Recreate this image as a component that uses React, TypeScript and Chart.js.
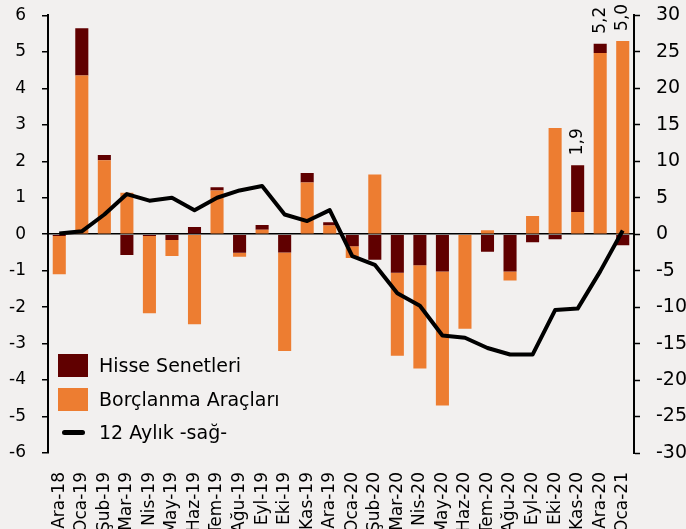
import React, { useEffect, useRef } from "react";
import { Chart, registerables } from "chart.js";

Chart.register(...registerables);

const categories = [
  "Ara-18", "Oca-19", "Şub-19", "Mar-19", "Nis-19", "May-19", "Haz-19", "Tem-19", "Ağu-19",
  "Eyl-19", "Eki-19", "Kas-19", "Ara-19", "Oca-20", "Şub-20", "Mar-20", "Nis-20", "May-20",
  "Haz-20", "Tem-20", "Ağu-20", "Eyl-20", "Eki-20", "Kas-20", "Ara-20", "Oca-21",
];
const hisse = [
  -0.05, 1.3, 0.14, -0.57, -0.05, -0.16, 0.2, 0.09, -0.51, 0.13, -0.5, 0.26, 0.09,
  -0.33, -0.7, -1.06, -0.85, -1.02, 0.0, -0.48, -1.02, -0.22, -0.14, 1.28, 0.25, -0.3,
];
const borc = [
  -1.05, 4.35, 2.03, 1.14, -2.12, -0.44, -2.47, 1.2, -0.11, 0.12, -2.7, 1.42, 0.24,
  -0.32, 1.64, -2.27, -2.83, -3.68, -2.59, 0.11, -0.25, 0.5, 2.91, 0.61, 4.97, 5.3,
];
const aylik12 = [
  0.1, 0.4, 2.7, 5.5, 4.6, 5.0, 3.3, 5.0, 6.0, 6.6, 2.7, 1.8, 3.3,
  -3.0, -4.2, -8.1, -9.8, -13.9, -14.2, -15.6, -16.5, -16.5, -10.4, -10.2, -5.1, 0.5,
];
const labelIndices = [23, 24, 25];
const leftTicks = { min: -6, max: 6, step: 1 };
const rightTicks = { min: -30, max: 30, step: 5 };

const HISSE_COLOR = "#600000";
const BORC_COLOR = "#ED7D31";
const BG = "#f2f0ef";
const FONT = "'DejaVu Sans', sans-serif";
const CANVAS_SHIFT = 12;

const totalLabelPlugin = {
  id: "totalLabels",
  afterDatasetsDraw(chart: any) {
    const ctx = chart.ctx;
    const xs = chart.scales.x;
    const ys = chart.scales.y;
    ctx.save();
    ctx.fillStyle = "#000";
    ctx.font = `17px ${FONT}`;
    ctx.textAlign = "left";
    ctx.textBaseline = "middle";
    labelIndices.forEach((i) => {
      const total = hisse[i] + borc[i];
      const posTop = Math.max(0, borc[i]) + Math.max(0, hisse[i]);
      const x = xs.getPixelForValue(i);
      const y = ys.getPixelForValue(posTop) - 10;
      ctx.save();
      ctx.translate(x, y);
      ctx.rotate(-Math.PI / 2);
      ctx.fillText(total.toFixed(1).replace(".", ","), 0, 0);
      ctx.restore();
    });
    ctx.restore();
  },
};

export default function App() {
  const ref = useRef<HTMLCanvasElement | null>(null);

  useEffect(() => {
    if (!ref.current) return;
    Chart.defaults.font.family = FONT;
    const hisseNeg = hisse.map((v) => (v < 0 ? v : null));
    const hissePos = hisse.map((v) => (v > 0 ? v : null));
    const chart = new Chart(ref.current, {
      type: "bar",
      data: {
        labels: categories,
        datasets: [
          {
            label: "Hisse Senetleri",
            data: hisseNeg as any,
            backgroundColor: HISSE_COLOR,
            yAxisID: "y",
            order: 1,
            categoryPercentage: 0.58,
            barPercentage: 1,
          },
          {
            label: "Borçlanma Araçları",
            data: borc,
            backgroundColor: BORC_COLOR,
            yAxisID: "y",
            order: 1,
            categoryPercentage: 0.58,
            barPercentage: 1,
          },
          {
            label: "Hisse Senetleri (+)",
            data: hissePos as any,
            backgroundColor: HISSE_COLOR,
            yAxisID: "y",
            order: 1,
            categoryPercentage: 0.58,
            barPercentage: 1,
          },
          {
            type: "line" as any,
            label: "12 Aylık -sağ-",
            data: aylik12,
            borderColor: "#000",
            borderWidth: 4,
            pointRadius: 0,
            tension: 0,
            yAxisID: "y1",
            order: 0,
            borderJoinStyle: "round",
          } as any,
        ],
      },
      options: {
        responsive: false,
        animation: false,
        layout: { padding: { top: 3, left: 0, right: 0, bottom: 0 } },
        plugins: {
          legend: { display: false },
          tooltip: { enabled: false },
        },
        scales: {
          x: {
            stacked: true,
            offset: true,
            grid: { display: false },
            border: { display: false },
            ticks: {
              autoSkip: false,
              minRotation: 90,
              maxRotation: 90,
              padding: 11,
              color: "#000",
              font: { size: 17, family: FONT },
            },
            afterFit(scale: any) {
              scale.height = 76;
            },
          },
          y: {
            position: "left",
            stacked: true,
            min: leftTicks.min,
            max: leftTicks.max,
            ticks: {
              stepSize: leftTicks.step,
              padding: 16,
              color: "#000",
              font: { size: 17, family: FONT },
            },
            grid: {
              drawOnChartArea: true,
              color: (c: any) => (c.tick && c.tick.value === 0 ? "#000" : "rgba(0,0,0,0)"),
              lineWidth: 1.5,
              tickColor: "#000",
              tickLength: 6,
              tickWidth: 1.5,
            },
            border: { display: true, color: "#000", width: 2 },
            afterFit(scale: any) {
              scale.width = 48;
            },
          },
          y1: {
            position: "right",
            min: rightTicks.min,
            max: rightTicks.max,
            ticks: {
              stepSize: rightTicks.step,
              padding: 16,
              color: "#000",
              font: { size: 19, family: FONT },
            },
            grid: {
              drawOnChartArea: false,
              tickColor: "#000",
              tickLength: 6,
              tickWidth: 1.5,
            },
            border: { display: true, color: "#000", width: 2 },
            afterFit(scale: any) {
              scale.width = 52;
            },
          },
        },
      },
      plugins: [totalLabelPlugin],
    });
    return () => chart.destroy();
  }, []);

  const textStyle = (top: number): React.CSSProperties => ({
    position: "absolute",
    left: 99,
    top,
    height: 24,
    lineHeight: "24px",
    fontSize: 19,
    fontFamily: FONT,
    color: "#000",
    whiteSpace: "nowrap",
  });

  return (
    <div
      style={{
        position: "fixed",
        left: 0,
        top: 0,
        width: 686,
        height: 529,
        background: BG,
        overflow: "hidden",
      }}
    >
      <canvas
        ref={ref}
        width={686}
        height={529 + CANVAS_SHIFT}
        style={{ display: "block", position: "absolute", left: 0, top: -CANVAS_SHIFT }}
      />
      <div style={{ position: "absolute", left: 58, top: 354, width: 30, height: 23, background: HISSE_COLOR }} />
      <div style={textStyle(353)}>Hisse Senetleri</div>
      <div style={{ position: "absolute", left: 58, top: 388, width: 30, height: 23, background: BORC_COLOR }} />
      <div style={textStyle(387)}>Borçlanma Araçları</div>
      <div style={{ position: "absolute", left: 62, top: 430, width: 23, height: 5, borderRadius: 3, background: "#000" }} />
      <div style={textStyle(420)}>12 Aylık -sağ-</div>
    </div>
  );
}
